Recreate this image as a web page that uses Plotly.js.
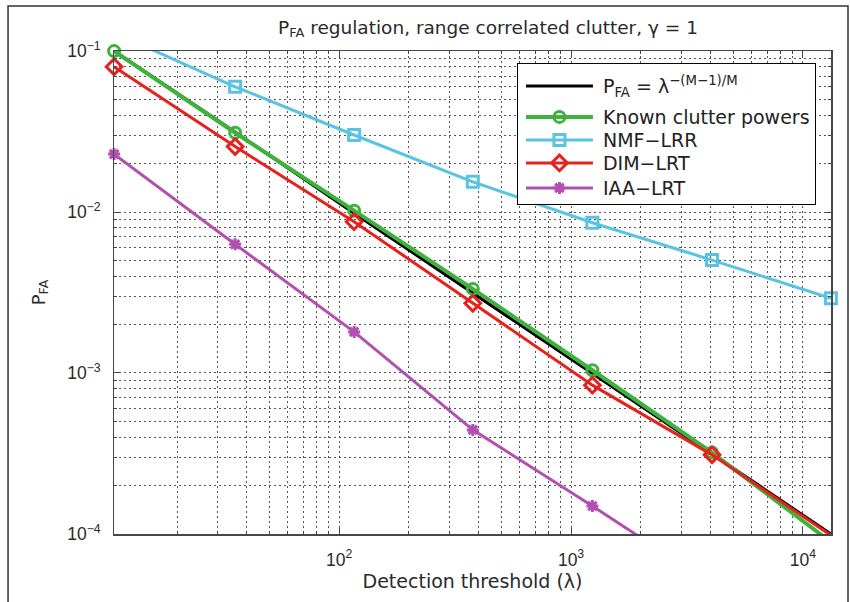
<!DOCTYPE html>
<html>
<head>
<meta charset="utf-8">
<script src="https://cdn.plot.ly/plotly-3.0.1.min.js"></script>
<style>
  html, body { margin: 0; padding: 0; background: #fff; }
  #chart { width: 850px; height: 602px; }
</style>
</head>
<body>
<div id="chart"></div>
<script>
// Detection threshold values (lambda) shared by every curve
const lambda = [10.7, 35.6, 116, 377, 1236, 4055, 13200];

// False-alarm probability per detector
const pfaTheory = [0.1, 0.0314, 0.00983, 0.00313, 0.000996, 0.000312, 0.0001];
const pfaKnown  = [0.1, 0.0311, 0.0102, 0.00333, 0.00104, 0.00032, 0.000089];
const pfaNMF    = [0.13, 0.060, 0.0301, 0.0154, 0.00858, 0.00503, 0.00291];
const pfaDIM    = [0.0799, 0.0255, 0.00871, 0.00271, 0.00084, 0.00031, 0.000098];
const pfaIAA    = [0.0229, 0.0063, 0.0018, 0.000443, 0.000149, 0.000049, 0.000016];

const seriesNames = [
  'P<sub>FA</sub> = λ<sup>−(M−1)/M</sup>',
  'Known clutter powers',
  'NMF−LRR',
  'DIM−LRT',
  'IAA−LRT'
];

const axisColor = '#474747';
const gridColor = 'rgba(55,55,55,0.85)';
const gridDash = '1.5px,3.5px';
const textFont = 'DejaVu Sans, Liberation Sans, Arial, sans-serif';
const tickFontFamily = 'Liberation Sans, Arial, sans-serif';

const traces = [
  {
    x: lambda, y: pfaTheory, name: seriesNames[0], mode: 'lines',
    line: { color: '#000000', width: 3 }
  },
  {
    x: lambda, y: pfaKnown, name: seriesNames[1], mode: 'lines+markers', cliponaxis: false,
    line: { color: '#3db23d', width: 4 },
    marker: { symbol: 'circle-open', size: 11, color: '#3db23d', line: { width: 3, color: '#3db23d' } }
  },
  {
    x: lambda, y: pfaNMF, name: seriesNames[2], mode: 'lines+markers', cliponaxis: false,
    line: { color: '#58c3e3', width: 3 },
    marker: { symbol: 'square-open', size: 11, color: '#58c3e3', line: { width: 3, color: '#58c3e3' } }
  },
  {
    x: lambda, y: pfaDIM, name: seriesNames[3], mode: 'lines+markers', cliponaxis: false,
    line: { color: '#e8211d', width: 3 },
    marker: { symbol: 'diamond-open', size: 12, color: '#e8211d', line: { width: 3, color: '#e8211d' } }
  },
  {
    x: lambda, y: pfaIAA, name: seriesNames[4], mode: 'lines+markers', cliponaxis: false,
    line: { color: '#b24fb0', width: 3 },
    marker: { symbol: 'asterisk-open', size: 10, color: '#b24fb0', line: { width: 3, color: '#b24fb0' } }
  }
];

function logAxis(range, extra) {
  return Object.assign({
    type: 'log',
    range: range,
    dtick: 1,
    exponentformat: 'power',
    showline: true,
    mirror: 'allticks',
    linecolor: axisColor,
    linewidth: 1.5,
    ticks: 'inside',
    ticklen: 6,
    tickwidth: 1,
    tickcolor: axisColor,
    showgrid: true,
    gridcolor: gridColor,
    griddash: gridDash,
    gridwidth: 1,
    zeroline: false,
    tickfont: { family: tickFontFamily, size: 14, color: '#2a2a2a' },
    minor: {
      dtick: 'D1',
      ticks: 'inside',
      ticklen: 3,
      tickcolor: axisColor,
      showgrid: true,
      gridcolor: gridColor,
      griddash: gridDash,
      gridwidth: 1
    }
  }, extra || {});
}

const layout = {
  width: 850,
  height: 602,
  margin: { l: 114, r: 19, t: 51, b: 68 },
  paper_bgcolor: '#ffffff',
  plot_bgcolor: '#ffffff',
  font: { family: textFont, color: '#2a2a2a' },
  title: {
    text: 'P<sub>FA</sub> regulation, range correlated clutter, γ = 1',
    x: 0.5216, xref: 'paper', xanchor: 'center',
    y: 0.955, yref: 'container', yanchor: 'middle',
    font: { family: textFont, size: 18.5, color: '#2a2a2a' }
  },
  xaxis: logAxis([1.029, 4.121], {
    ticklabelstandoff: 10,
    title: { text: 'Detection threshold (λ)', standoff: 3, font: { family: textFont, size: 19, color: '#2a2a2a' } }
  }),
  yaxis: logAxis([-4.0005, -0.9995], {
    ticklabelstandoff: 9,
    title: { text: 'P<sub>FA</sub>', standoff: 17, font: { family: textFont, size: 18, color: '#2a2a2a' } }
  }),
  showlegend: true,
  legend: {
    x: 0.562, y: 0.975, xanchor: 'left', yanchor: 'top',
    bgcolor: '#ffffff', bordercolor: '#000000', borderwidth: 1,
    font: { family: textFont, size: 19, color: '#222222' },
    itemwidth: 75,
    tracegroupgap: 0
  },
  shapes: [
    {
      type: 'rect', xref: 'paper', yref: 'paper',
      x0: -0.1478, x1: 1.0237, y0: -0.25, y1: 1.0932,
      line: { color: '#333333', width: 1.5 }, fillcolor: 'rgba(0,0,0,0)', layer: 'below'
    }
  ]
};

// Legend tweaks: longer sample lines, marker centred on them, tighter rows
const legendRowOffsets = [3, 34, 57, 80, 105];
const legendBoxHeight = 141;

function tuneLegend(gd) {
  gd.querySelectorAll('.legend path.js-line').forEach(p => p.setAttribute('d', 'M8,0h67'));
  gd.querySelectorAll('.legend path.scatterpts').forEach(p => p.setAttribute('transform', 'translate(41.5,0)'));

  const items = Array.from(gd.querySelectorAll('.legend .traces'));
  const parse = el => {
    const m = /translate\(\s*([-\d.]+)[ ,]+([-\d.]+)\s*\)/.exec(el.getAttribute('transform') || '');
    return m ? [parseFloat(m[1]), parseFloat(m[2])] : [0, 0];
  };
  if (items.length) {
    const base = parse(items[0])[1];
    items.forEach((el, i) => {
      const xy = parse(el);
      el.setAttribute('transform', 'translate(' + xy[0] + ',' + (base + legendRowOffsets[i]) + ')');
    });
  }
  const bg = gd.querySelector('.legend rect.bg');
  if (bg) bg.setAttribute('height', legendBoxHeight);
}

Plotly.newPlot('chart', traces, layout, { displayModeBar: false, staticPlot: true })
  .then(tuneLegend);
</script>
</body>
</html>
